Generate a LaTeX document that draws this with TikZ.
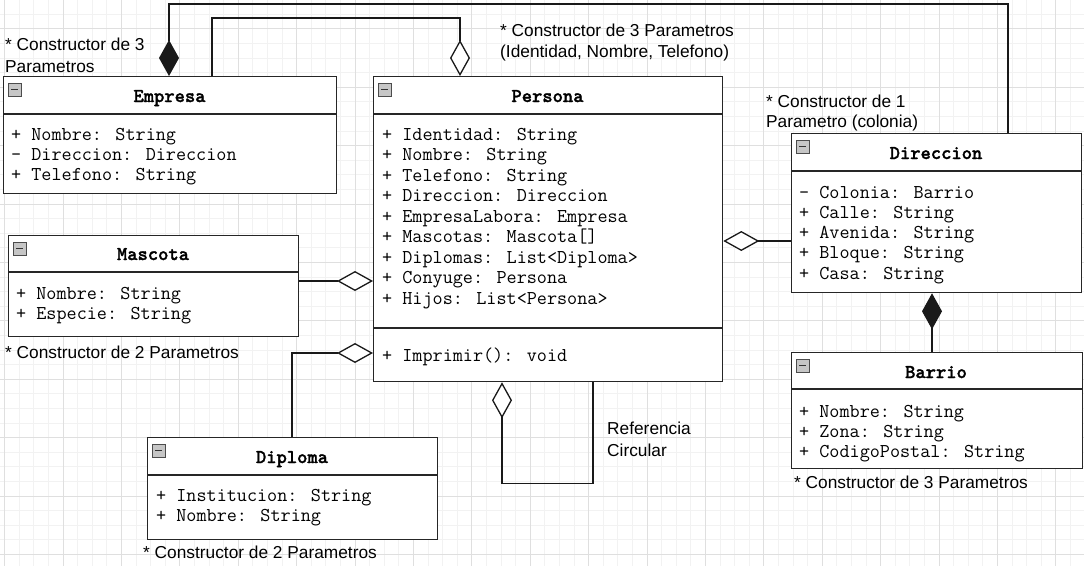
\documentclass[tikz,border=0pt]{standalone}
\usepackage{fontspec}
\setmainfont{Liberation Sans}
\newfontfamily\ttbold{lmmonolt10-bold.otf}[FakeBold=1.5]
\usetikzlibrary{arrows.meta,calc}
\newcommand\clsicon[1]{%
  \draw[gray!60!black, line width=0.6pt, fill=gray!45] ($(#1.north west)+(5,7)$) rectangle ++(13,13);
  \draw[black!80, line width=1.6pt] ($(#1.north west)+(8,13.5)$) -- ++(7,0);}
\begin{document}
\begin{tikzpicture}[x=1pt,y=-1pt,
  box/.style={draw=black!85, line width=1.3pt, fill=white, rectangle, inner sep=0pt, anchor=north west},
  sep/.style={draw=black!85, line width=1.3pt},
  ttl/.style={font=\ttbold\fontsize{19.6}{22}\selectfont, inner sep=0pt, anchor=base},
  attr/.style={font=\ttfamily\fontsize{19.6}{22}\selectfont, inner sep=0pt, anchor=base west},
  lbl/.style={font=\fontsize{17.3}{21}\selectfont, inner sep=0pt, anchor=base west},
  conn/.style={line width=1.3pt, draw=black!90},
  agg/.style={conn, {Diamond[fill=white, length=36pt, width=20pt]}-},
  aggE/.style={conn, -{Diamond[fill=white, length=36pt, width=20pt]}},
  comp/.style={conn, {Diamond[length=36pt, width=20pt]}-},
]
\useasboundingbox (0,0) rectangle (1084,565);
\fill[white] (0,0) rectangle (1084,565);
\begin{scope}
  \clip (0,0) rectangle (1084,565);
  \begin{scope}[xshift=4.6pt, yshift=29.6pt]
    \draw[gray!10, line width=0.7pt, step=14.6pt] (-60,-60) grid (1140,620);
    \draw[gray!25, line width=0.7pt, step=58.4pt] (-60,-60) grid (1140,620);
  \end{scope}
\end{scope}

% ---------- classes ----------
\node[box, minimum width=333pt, minimum height=117pt] (empresa) at (3,76) {};
\draw[sep] ($(empresa.north west)+(0,38)$) -- ++(333,0);
\clsicon{empresa}
\node[ttl] (empresa-t) at (169.5,102) {Empresa};
\foreach \t [count=\i from 0] in {+ Nombre: String, - Direccion: Direccion, + Telefono: String}
  \node[attr] (empresa-a\i) at (11,{140+20.3*\i}) {\t};

\node[box, minimum width=349pt, minimum height=305pt] (persona) at (373,76) {};
\draw[sep] ($(persona.north west)+(0,38)$) -- ++(349,0);
\draw[sep] ($(persona.north west)+(0,252)$) -- ++(349,0);
\clsicon{persona}
\node[ttl] (persona-t) at (547.5,102) {Persona};
\foreach \t [count=\i from 0] in {+ Identidad: String, + Nombre: String, + Telefono: String, + Direccion: Direccion, + EmpresaLabora: Empresa, + Mascotas: Mascota[], + Diplomas: List<Diploma>, + Conyuge: Persona, + Hijos: List<Persona>}
  \node[attr] (persona-a\i) at (382,{140+20.5*\i}) {\t};
\node[attr] (persona-m0) at (382,361) {+ Imprimir(): void};

\node[box, minimum width=290pt, minimum height=159pt] (direccion) at (791,133) {};
\draw[sep] ($(direccion.north west)+(0,38)$) -- ++(290,0);
\clsicon{direccion}
\node[ttl] (direccion-t) at (936,159) {Direccion};
\foreach \t [count=\i from 0] in {- Colonia: Barrio, + Calle: String, + Avenida: String, + Bloque: String, + Casa: String}
  \node[attr] (direccion-a\i) at (799,{198+20.3*\i}) {\t};

\node[box, minimum width=290pt, minimum height=101pt] (mascota) at (8,235) {};
\draw[sep] ($(mascota.north west)+(0,37)$) -- ++(290,0);
\clsicon{mascota}
\node[ttl] (mascota-t) at (153,260) {Mascota};
\foreach \t [count=\i from 0] in {+ Nombre: String, + Especie: String}
  \node[attr] (mascota-a\i) at (16,{299+20*\i}) {\t};

\node[box, minimum width=290pt, minimum height=102pt] (diploma) at (147,437) {};
\draw[sep] ($(diploma.north west)+(0,38)$) -- ++(290,0);
\clsicon{diploma}
\node[ttl] (diploma-t) at (292,463) {Diploma};
\foreach \t [count=\i from 0] in {+ Institucion: String, + Nombre: String}
  \node[attr] (diploma-a\i) at (156,{501+20.5*\i}) {\t};

\node[box, minimum width=291pt, minimum height=116pt] (barrio) at (791,352) {};
\draw[sep] ($(barrio.north west)+(0,37)$) -- ++(291,0);
\clsicon{barrio}
\node[ttl] (barrio-t) at (936,378) {Barrio};
\foreach \t [count=\i from 0] in {+ Nombre: String, + Zona: String, + CodigoPostal: String}
  \node[attr] (barrio-a\i) at (799,{417+20*\i}) {\t};

% ---------- connectors ----------
\draw[comp] ($(empresa.north west)+(166,0)$) |- ($(direccion.north west)+(217,-129)$) -- ($(direccion.north west)+(217,0)$);
\draw[aggE] ($(empresa.north west)+(209,0)$) |- ($(persona.north west)+(87,-58)$) -- ($(persona.north west)+(87,0)$);
\draw[agg] ($(persona.north east)+(0,165)$) -- ($(direccion.north west)+(0,108)$);
\draw[aggE] ($(mascota.north east)+(0,46)$) -- ($(persona.north west)+(0,205)$);
\draw[aggE] ($(diploma.north west)+(145,0)$) |- ($(persona.north west)+(0,277)$);
\draw[agg] ($(persona.south west)+(129,0)$) -- ++(0,101) -| ($(persona.south west)+(220,0)$);
\draw[comp] ($(direccion.south west)+(141,0)$) -- ($(barrio.north west)+(141,0)$);

% ---------- notes ----------
\node[lbl] (n1a) at (5,50) {* Constructor de 3};
\node[lbl] (n1b) at (5,72) {Parametros};
\node[lbl] (n2a) at (500,36) {* Constructor de 3 Parametros};
\node[lbl] (n2b) at (500,57) {(Identidad, Nombre, Telefono)};
\node[lbl] (n3a) at (766,107) {* Constructor de 1};
\node[lbl] (n3b) at (766,127) {Parametro (colonia)};
\node[lbl] (n4) at (5,358) {* Constructor de 2 Parametros};
\node[lbl] (n5) at (143,558) {* Constructor de 2 Parametros};
\node[lbl] (n6) at (794,488) {* Constructor de 3 Parametros};
\node[lbl] (n7a) at (607,434) {Referencia};
\node[lbl] (n7b) at (607,456) {Circular};
\end{tikzpicture}
\end{document}
